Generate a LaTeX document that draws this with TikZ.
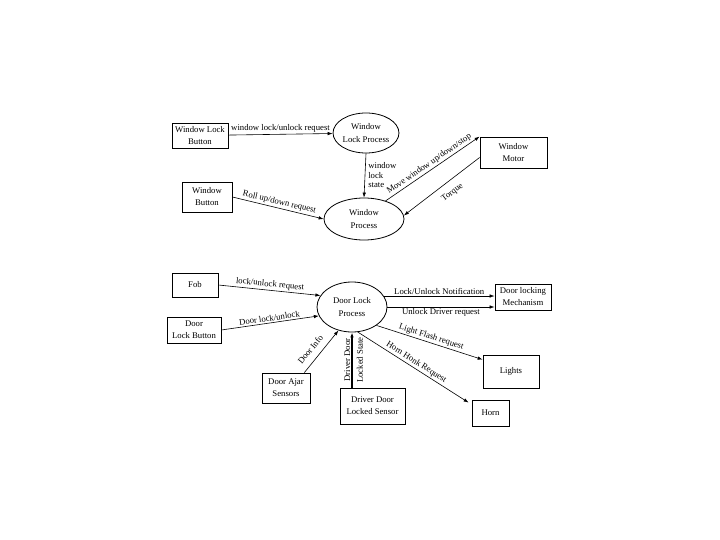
\documentclass[tikz,border=0pt]{standalone}
\usepackage{fontspec}
\setmainfont{Liberation Serif}
\usetikzlibrary{arrows.meta,shapes.geometric}
\tikzset{
  blk/.style={draw, line width=0.8pt, align=center, inner sep=0pt,
    font=\fontsize{8.7}{12}\selectfont},
  proc/.style={draw, ellipse, line width=0.8pt, align=center, inner sep=0pt,
    font=\fontsize{8.7}{13}\selectfont},
  flow/.style={-{Latex[length=5pt,width=3.5pt]}, line width=0.6pt},
  backflow/.style={{Latex[length=5pt,width=3.5pt]}-, line width=0.6pt},
  lbl/.style={font=\fontsize{8.7}{9}\selectfont, inner sep=1.5pt}
}
\begin{document}
\begin{tikzpicture}[x=1pt, y=-1pt]
    \useasboundingbox (0,0) rectangle (720,540);

    % window part
    \node[blk, minimum width=56pt, minimum height=25pt] (wlbtn) at (200,135.5) {Window Lock\\Button};
    \node[blk, minimum width=50pt, minimum height=30pt] (wbtn) at (207,197) {Window\\Button};
    \node[blk, minimum width=67pt, minimum height=31pt] (wmotor) at (513.5,152.5) {Window\\Motor};
    \node[proc, minimum width=64pt, minimum height=40pt] (wlproc) at (366,133) {Window\\Lock Process};
    \node[proc, minimum width=80pt, minimum height=42pt] (wproc) at (364,219) {Window\\Process};

    % door part
    \node[blk, minimum width=46pt, minimum height=24pt] (fob) at (195,285) {Fob};
    \node[blk, minimum width=54pt, minimum height=26pt] (dlbtn) at (194,330) {Door\\Lock Button};
    \node[proc, minimum width=70pt, minimum height=50pt] (dlproc) at (352,307) {Door Lock\\Process};
    \node[blk, minimum width=56pt, minimum height=26pt] (dlmech) at (523,297) {Door locking\\Mechanism};
    \node[blk, minimum width=56pt, minimum height=33pt] (lights) at (511,371.5) {Lights};
    \node[blk, minimum width=37pt, minimum height=26pt] (horn) at (490.5,413) {Horn};
    \node[blk, minimum width=48pt, minimum height=30pt] (ajar) at (286,388) {Door Ajar\\Sensors};
    \node[blk, minimum width=65pt, minimum height=36pt] (ddsens) at (372.5,406) {Driver Door\\Locked Sensor};

    \draw[flow] (wlbtn) -- node[lbl, above] {window lock/unlock request} (wlproc);
    \draw[flow] (wlproc.south) -- node[lbl, right, align=left, inner sep=3pt, font=\fontsize{8.7}{9.5}\selectfont] {window\\lock\\state} (wproc.north);
    \draw[flow] (wbtn.east) -- node[lbl, above, sloped] {Roll up/down request} (wproc.west);
    \draw[flow] (wproc.40) -- node[lbl, above, sloped] {Move window up/down/stop} (wmotor.north west);
    \draw[backflow] (wproc.5) -- node[lbl, below=6pt, sloped, pos=0.55] {Torque} ([yshift=-5pt]wmotor.west);

    \draw[flow] (fob.east) -- node[lbl, above, sloped] {lock/unlock request} (dlproc.160);
    \draw[flow] (dlbtn.east) -- node[lbl, above, sloped] {Door lock/unlock} (dlproc.195);
    \draw[flow] (ajar.40) -- node[lbl, above=5pt, sloped, pos=0.4] {Door Info} (dlproc.240);
    \draw[flow, line width=1.6pt] (dlproc.south |- ddsens.north) -- node[lbl, rotate=90, anchor=south, inner sep=1pt] {Driver Door} node[lbl, rotate=90, anchor=north, inner sep=4pt] {Locked State} (dlproc.south);
    \draw[flow] (dlproc.19) -- node[lbl, above] {Lock/Unlock Notification} (dlproc.19 -| dlmech.west);
    \draw[flow] (dlproc.east) -- node[lbl, below] {Unlock Driver request} (dlproc.east -| dlmech.west);
    \draw[flow] (dlproc.323) -- node[lbl, above, sloped] {Light Flash request} ([yshift=-5pt]lights.north west);
    \draw[flow] (dlproc.283) -- node[lbl, above, sloped] {Horn Honk Request} ([xshift=-3pt, yshift=-3pt]horn.north west);
\end{tikzpicture}
\end{document}
